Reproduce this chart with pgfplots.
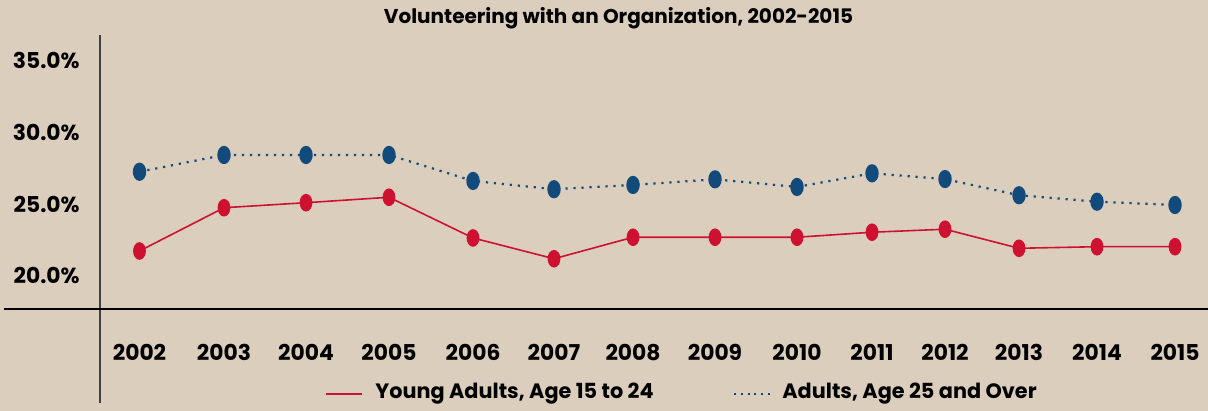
\documentclass[border=0pt]{standalone}
\usepackage{fontspec}
\setmainfont{Poppins}
\usepackage{pgfplots}
\pgfplotsset{compat=1.18}
\definecolor{bgcol}{RGB}{219,206,189}
\definecolor{cred}{RGB}{206,17,49}
\definecolor{cblue}{RGB}{19,74,124}
\begin{document}
\begin{tikzpicture}
\begin{axis}[
  name=ax,
  scale only axis,
  width=604pt, height=205.5pt,
  xmin=0, xmax=1208, ymin=10.565, ymax=39.246,
  clip=false,
  axis background/.style={fill=bgcol},
  axis line style={draw=none},
  major tick length=0pt,
  font=\fontsize{10.9}{12}\selectfont\bfseries,
  /pgf/number format/assume math mode=true,
  xtick={139.5,224,306,389,473,554,633,715,797,872,945,1019,1097,1175},
  xticklabels={2002,2003,2004,2005,2006,2007,2008,2009,2010,2011,2012,2013,2014,2015},
  xticklabel style={anchor=base, yshift=25pt},
  ytick={20,25,30,35},
  yticklabel={\pgfmathprintnumber[fixed,fixed zerofill,precision=1]{\tick}\%},
  yticklabel style={anchor=east, inner sep=0pt, xshift=40pt},
]
\draw[color=black!75, line width=1pt] (axis cs:100,36.80) -- (axis cs:100,11.12);
\draw[color=black, line width=1pt] (axis cs:4,17.66) -- (axis cs:1208,17.66);
\node[font=\fontsize{10}{12}\selectfont\bfseries] at (axis cs:618.5,37.99) {Volunteering with an Organization, 2002-2015};

\addplot[color=cblue, line width=1.1pt, dash pattern=on 1.1pt off 2.9pt, mark=*, mark size=4pt, mark options={solid, xscale=0.7, fill=cblue, draw=cblue}] coordinates {
(139.5,27.26) (224,28.43) (306,28.43) (389,28.43) (473,26.62) (554,26.04) (633,26.34) (715,26.73) (797,26.20) (872,27.15) (945,26.75) (1019,25.62) (1097,25.17) (1175,24.94)
};
\addplot[color=cred, line width=0.8pt, mark=*, mark size=4pt, mark options={solid, xscale=0.7, fill=cred, draw=cred}] coordinates {
(139.5,21.73) (224,24.75) (306,25.10) (389,25.48) (473,22.64) (554,21.19) (633,22.69) (715,22.69) (797,22.69) (872,23.04) (945,23.25) (1019,21.92) (1097,22.03) (1175,22.03)
};

\draw[color=cred, line width=0.8pt] (axis cs:326,11.75) -- (axis cs:362,11.75);
\node[anchor=west, inner sep=0pt, font=\fontsize{10.4}{12}\selectfont\bfseries] at (axis cs:375,11.75) {Young Adults, Age 15 to 24};
\draw[color=cblue, line width=1pt, dash pattern=on 1pt off 2.4pt] (axis cs:734,11.75) -- (axis cs:773,11.75);
\node[anchor=west, inner sep=0pt, font=\fontsize{10.4}{12}\selectfont\bfseries] at (axis cs:782,11.75) {Adults, Age 25 and Over};
\end{axis}
\pgfresetboundingbox
\path (ax.south west) rectangle (ax.north east);
\end{tikzpicture}
\end{document}
